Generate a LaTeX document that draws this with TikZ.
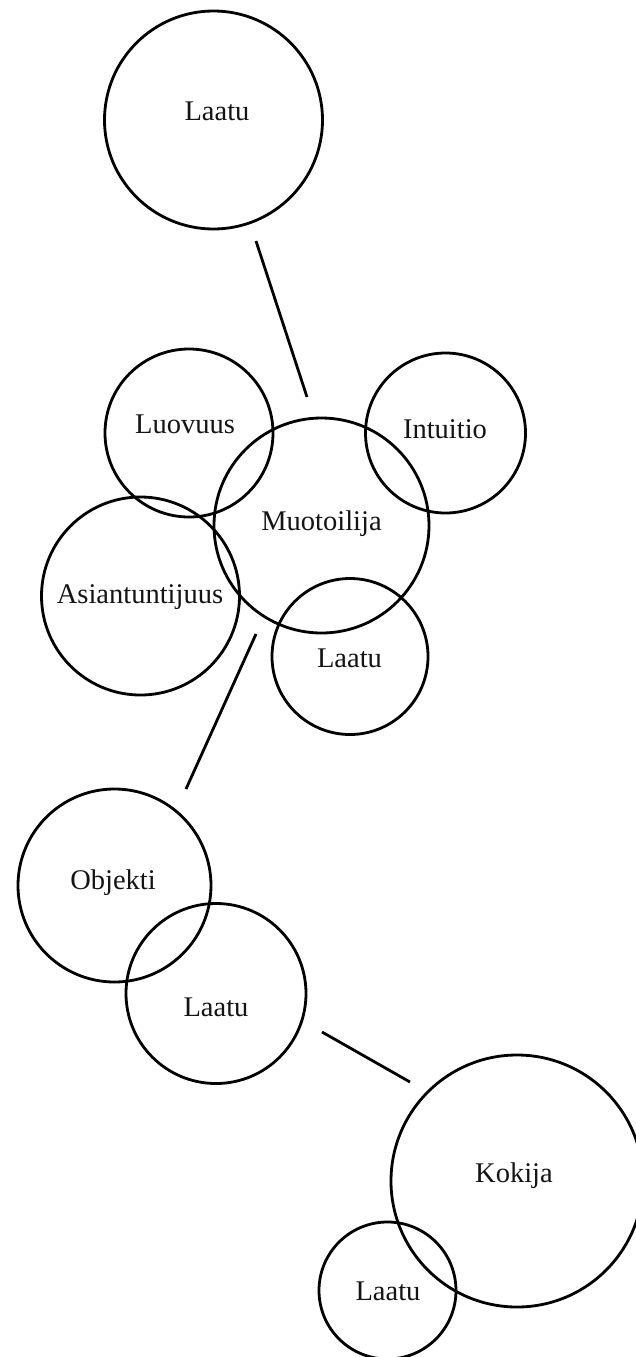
\documentclass[tikz,border=0pt]{standalone}
\usepackage{fontspec}
\setmainfont{Liberation Serif}
\begin{document}
\begin{tikzpicture}[x=1pt,y=-1pt,
  bub/.style={draw, circle, line width=2.8pt, inner sep=0pt},
  lbl/.style={anchor=base, inner sep=0pt, text=black!92, font=\fontsize{28.5}{34}\selectfont},
  conn/.style={line width=2.8pt}]
\useasboundingbox (0,0) rectangle (635,1357);
% circles
\node[bub, minimum size=218pt] (c1) at (213.5,120) {};
\node[bub, minimum size=168pt] (c2) at (189,433) {};
\node[bub, minimum size=160pt] (c3) at (445.5,433) {};
\node[bub, minimum size=215pt] (c4) at (321.5,525.5) {};
\node[bub, minimum size=198pt] (c5) at (140.5,596) {};
\node[bub, minimum size=156pt] (c6) at (350,656.5) {};
\node[bub, minimum size=193pt] (c7) at (114.5,885.5) {};
\node[bub, minimum size=180pt] (c8) at (216,993.5) {};
\node[bub, minimum size=252pt] (c9) at (517,1181) {};
\node[bub, minimum size=137pt] (c10) at (387.5,1290.5) {};
% labels
\node[lbl] (t1) at (217,120) {Laatu};
\node[lbl] (t2) at (185,433) {Luovuus};
\node[lbl] (t3) at (445,438) {Intuitio};
\node[lbl] (t4) at (321.5,530) {Muotoilija};
\node[lbl] (t5) at (140,603) {Asiantuntijuus};
\node[lbl] (t6) at (349.5,667) {Laatu};
\node[lbl] (t7) at (113,889) {Objekti};
\node[lbl] (t8) at (216,1016) {Laatu};
\node[lbl] (t9) at (514,1182) {Kokija};
\node[lbl] (t10) at (388,1300) {Laatu};
% connector ends
\coordinate (l1a) at (256,241);
\coordinate (l1b) at (307,397);
\coordinate (l2a) at (256,634);
\coordinate (l2b) at (186,789);
\coordinate (l3a) at (322,1032);
\coordinate (l3b) at (410,1082);
\draw[conn] (l1a) -- (l1b);
\draw[conn] (l2a) -- (l2b);
\draw[conn] (l3a) -- (l3b);
\end{tikzpicture}
\end{document}
